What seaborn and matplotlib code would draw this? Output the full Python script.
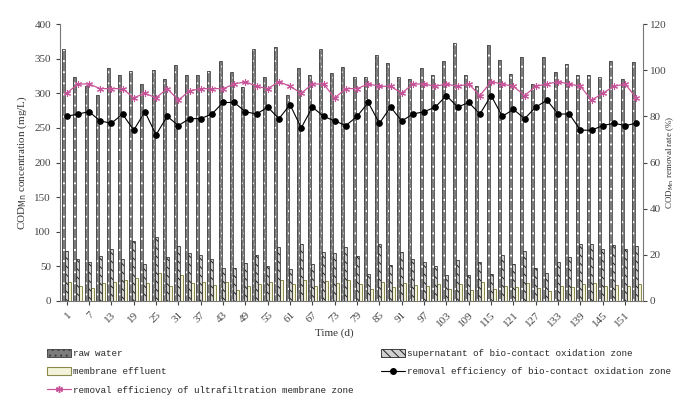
import numpy as np
import pandas as pd
import matplotlib
matplotlib.use("Agg")
import matplotlib.pyplot as plt
import seaborn as sns
from matplotlib.patches import Patch, Rectangle
from matplotlib.lines import Line2D

# sampling days (every 3 d)
days = list(range(1, 155, 3))

# CODMn concentration (mg/L)
raw_water = [364, 324, 310, 298, 336, 327, 332, 313, 333, 321, 341, 326, 326,
             332, 347, 330, 309, 364, 324, 367, 297, 336, 327, 364, 329, 338,
             324, 324, 355, 344, 324, 321, 336, 327, 347, 373, 327, 310, 370,
             348, 328, 353, 313, 353, 331, 342, 327, 327, 324, 347, 320, 345]
supernatant = [72, 60, 57, 65, 75, 61, 87, 53, 92, 63, 80, 69, 66, 61, 48, 47,
               55, 67, 50, 78, 46, 83, 53, 71, 69, 78, 65, 39, 82, 52, 71, 61,
               56, 50, 38, 59, 37, 57, 39, 66, 53, 72, 47, 40, 57, 63, 82, 82,
               75, 81, 75, 80]
membrane = [28, 21, 19, 26, 28, 30, 33, 26, 40, 21, 37, 26, 28, 23, 28, 16, 22,
            25, 27, 30, 24, 31, 22, 29, 26, 30, 24, 18, 27, 20, 26, 23, 22, 25,
            17, 24, 16, 27, 17, 22, 20, 26, 19, 15, 22, 20, 24, 26, 21, 23, 22, 24]

# removal efficiency (%)
bio_removal = [80, 81, 82, 78, 77, 81, 74, 82, 72, 80, 76, 79, 79, 81, 86, 86,
               82, 81, 84, 79, 85, 75, 84, 80, 78, 76, 80, 86, 77, 84, 78, 81,
               82, 84, 89, 84, 86, 81, 89, 80, 83, 79, 84, 87, 81, 81, 74, 74,
               76, 77, 76, 77]
uf_removal = [90, 94, 94, 92, 92, 92, 88, 90, 88, 92, 87, 91, 92, 92, 92, 94,
              95, 93, 92, 95, 93, 90, 94, 94, 88, 92, 92, 94, 93, 93, 90, 94,
              94, 93, 94, 93, 94, 89, 95, 94, 93, 89, 93, 94, 95, 94, 93, 87,
              90, 93, 94, 88]

series = ["raw water", "supernatant of bio-contact oxidation zone", "membrane effluent"]

df = pd.DataFrame({
    "day": days * 3,
    "value": raw_water + supernatant + membrane,
    "series": [series[0]] * len(days) + [series[1]] * len(days) + [series[2]] * len(days),
})

sns.set_style("ticks")
plt.rcParams["font.family"] = ["Liberation Serif", "DejaVu Serif"]
plt.rcParams["hatch.linewidth"] = 0.7

fig = plt.figure(figsize=(6.78, 3.96), dpi=100)
ax = fig.add_axes([60 / 678, 1 - 301 / 396, 583 / 678, 277 / 396])

sns.barplot(data=df, x="day", y="value", hue="series", hue_order=series,
            palette=["#7a7a7a", "#9a9a9a", "#eeeed8"], width=0.8,
            saturation=1, errorbar=None, legend=False, ax=ax)

# bar textures (Excel-like patterns)
styles = [
    dict(fc="#7c7c7c", hatch="...", hc="white", ec="#444444"),
    dict(fc="#d0d0d0", hatch="\\\\\\\\", hc="#222222", ec="#3a3a3a"),
    dict(fc="#f3f3dc", hatch=None, hc=None, ec="#8a8a4a"),
]
for cont, st in zip(ax.containers, styles):
    for p in cont:
        p.set_facecolor(st["fc"])
        if st["hatch"]:
            p.set_hatch(st["hatch"])
            p.set_edgecolor(st["hc"])
            p.set_linewidth(0)
            ax.add_patch(Rectangle(p.get_xy(), p.get_width(), p.get_height(),
                                   fill=False, ec=st["ec"], lw=0.6))
        else:
            p.set_edgecolor(st["ec"])
            p.set_linewidth(0.7)

ax.set_ylim(0, 400)
ax.set_yticks(range(0, 401, 50))
ax.set_xlim(-0.6, len(days) - 0.4)
ax.set_xticks(range(0, len(days), 2))
ax.set_xticklabels(days[::2], rotation=45, ha="right", rotation_mode="anchor")
ax.set_xlabel("")
ax.set_ylabel("COD$_{\\mathrm{Mn}}$ concentration (mg/L)", fontsize=8, color="#333333")
ax.tick_params(labelsize=8, colors="#444444", length=3)
for s in ["left", "bottom"]:
    ax.spines[s].set_color("#777777")
ax.spines["top"].set_visible(False)
ax.spines["right"].set_visible(False)

ax2 = ax.twinx()
xpos = np.arange(len(days))
sns.lineplot(x=xpos, y=uf_removal, ax=ax2, color="#c8559a", lw=0.9,
             marker=(6, 2, 0), markersize=5, markeredgewidth=0.8,
             markeredgecolor="#c8559a")
sns.lineplot(x=xpos, y=bio_removal, ax=ax2, color="black", lw=0.8,
             marker="o", markersize=4, markeredgecolor="black")
ax2.set_ylim(0, 120)
ax2.set_yticks(range(0, 121, 20))
ax2.set_xlim(ax.get_xlim())
ax2.tick_params(labelsize=8, colors="#444444", length=3, pad=2)
ax2.spines["top"].set_visible(False)
ax2.spines["left"].set_visible(False)
ax2.spines["bottom"].set_visible(False)
ax2.spines["right"].set_color("#777777")
fig.text(670.5 / 678, 1 - 162 / 396, "COD$_{\\mathrm{Mn}}$ removal rate (%)",
         rotation=90, ha="center", va="center", fontsize=6.5, color="#333333")

fig.text(334 / 678, 1 - 333 / 396, "Time (d)", ha="center", va="center",
         fontsize=8, color="#333333")

handles = [
    Patch(facecolor="#7c7c7c", edgecolor="#3a3a3a", hatch="...", lw=0.6),
    Patch(facecolor="#f3f3dc", edgecolor="#8a8a4a", lw=0.8),
    Line2D([], [], color="#c8559a", marker=(6, 2, 0), markersize=5, lw=0.9),
    Patch(facecolor="#d0d0d0", edgecolor="#222222", hatch="\\\\\\\\", lw=0.6),
    Line2D([], [], color="black", marker="o", markersize=4, lw=0.8),
]
labels = ["raw water", "membrane effluent",
          "removal efficiency of ultrafiltration membrane zone",
          "supernatant of bio-contact oxidation zone",
          "removal efficiency of bio-contact oxidation zone"]
fig.legend(handles, labels, loc="upper left", bbox_to_anchor=(47 / 678, 1 - 349 / 396),
           ncol=2, frameon=False, borderpad=0, borderaxespad=0,
           handlelength=2.6, handleheight=0.9, handletextpad=0.2,
           columnspacing=2.9, labelspacing=1.0,
           prop={"family": "Liberation Mono", "size": 6.7})

fig.savefig("out.png", dpi=100)
